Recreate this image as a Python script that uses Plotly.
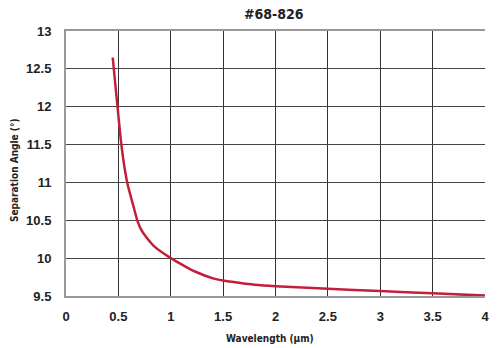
import plotly.graph_objects as go

wavelength = [0.446, 0.488, 0.526, 0.564, 0.589, 0.645, 0.683, 0.72, 0.762, 0.842, 1.0, 1.125, 1.22, 1.41, 1.5, 1.65, 1.8, 2.0, 2.5, 3.0, 3.5, 4.0]
angle = [12.65, 12.05, 11.53, 11.15, 10.97, 10.68, 10.49, 10.37, 10.285, 10.155, 10.0, 9.9, 9.83, 9.73, 9.705, 9.675, 9.65, 9.63, 9.597, 9.565, 9.535, 9.505]

x_ticks = [0, 0.5, 1, 1.5, 2, 2.5, 3, 3.5, 4]
x_labels = ["0", "0.5", "1", "1.5", "2", "2.5", "3", "3.5", "4"]
y_ticks = [9.5, 10, 10.5, 11, 11.5, 12, 12.5, 13]
y_labels = ["9.5", "10", "10.5", "11", "11.5", "12", "12.5", "13"]

tick_font = "Liberation Sans, Arial, sans-serif"
narrow_font = "Liberation Sans Narrow, DejaVu Sans Condensed, sans-serif"

L, R, T, B = 66, 485, 31, 296
W, H = R - L, B - T

fig = go.Figure()
fig.add_trace(go.Scatter(
    x=wavelength, y=angle, mode="lines",
    line=dict(color="#C41E3A", width=2.5, shape="spline", smoothing=0.6),
    showlegend=False, hoverinfo="skip",
))

fig.update_layout(
    width=500, height=348,
    margin=dict(l=L, r=500 - R, t=T, b=348 - B),
    paper_bgcolor="white", plot_bgcolor="white",
    font=dict(family=tick_font, color="#222"),
    annotations=[
        dict(text="<b>#68-826</b>", xref="paper", yref="paper",
             x=(274 - L) / W, y=(B - 14) / H, xanchor="center", yanchor="middle",
             showarrow=False, font=dict(family=narrow_font, size=14, color="#222")),
        dict(text="<b>Wavelength (μm)</b>", xref="paper", yref="paper",
             x=(270 - L) / W, y=(B - 338) / H, xanchor="center", yanchor="middle",
             showarrow=False, font=dict(family=narrow_font, size=10, color="#222")),
        dict(text="<b>Separation Angle (°)</b>", xref="paper", yref="paper",
             x=(14 - L) / W, y=(B - 170) / H, xanchor="center", yanchor="middle",
             textangle=-90, showarrow=False,
             font=dict(family=narrow_font, size=10, color="#222")),
    ],
)
fig.update_xaxes(
    range=[0, 4], tickvals=x_ticks, ticktext=x_labels, automargin=False,
    showgrid=True, gridcolor="#333", gridwidth=1.3,
    showline=True, linecolor="#999", linewidth=2, mirror=True,
    zeroline=False, ticks="", ticklabelstandoff=7,
    tickfont=dict(size=13, color="#222", weight="bold"),
)
fig.update_yaxes(
    range=[9.5, 13], tickvals=y_ticks, ticktext=y_labels, automargin=False,
    showgrid=True, gridcolor="#444", gridwidth=1.3,
    showline=True, linecolor="#999", linewidth=2, mirror=False,
    zeroline=False, ticks="", ticklabelstandoff=10,
    tickfont=dict(size=13, color="#222", weight="bold"),
)
fig.write_html("out.html", config={"displayModeBar": False},
               post_script="document.body.style.margin='0';document.body.style.padding='0';")
